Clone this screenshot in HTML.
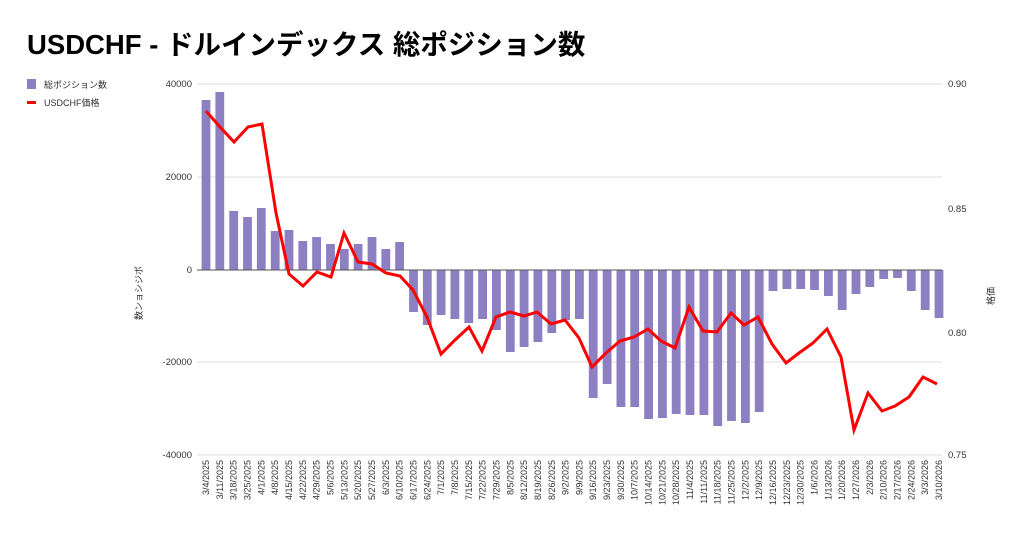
<!DOCTYPE html>
<html><head><meta charset="utf-8"><style>
body{margin:0;background:#fff;}
svg{display:block;font-family:"Liberation Sans","Noto Sans CJK JP",sans-serif;}
</style></head><body>
<svg width="1024" height="539" viewBox="0 0 1024 539" xmlns="http://www.w3.org/2000/svg">
<rect width="1024" height="539" fill="#fff"/>
<text x="27" y="54" font-size="27.5" font-weight="bold" fill="#000">USDCHF - ドルインデックス 総ポジション数</text>
<rect x="27" y="79" width="9" height="10" fill="#8c7fc2"/>
<text x="44" y="88" font-size="9" fill="#333">総ポジション数</text>
<rect x="27" y="101" width="9" height="3" fill="#f00"/>
<text x="44" y="106" font-size="9" fill="#333">USDCHF価格</text>
<g stroke="#ddd" stroke-width="1">
<line x1="197" y1="84" x2="942" y2="84"/>
<line x1="197" y1="177" x2="942" y2="177"/>
<line x1="197" y1="362" x2="942" y2="362"/>
<line x1="197" y1="455" x2="942" y2="455"/>
</g>
<g font-size="9.5" fill="#333" text-anchor="end">
<text x="192" y="87">40000</text><text x="192" y="180">20000</text><text x="192" y="273">0</text>
<text x="192" y="365">-20000</text><text x="192" y="458">-40000</text>
</g>
<g font-size="9.5" fill="#333">
<text x="948" y="87">0.90</text><text x="948" y="212">0.85</text><text x="948" y="336">0.80</text><text x="948" y="458">0.75</text>
</g>
<text transform="translate(142,320) rotate(-90)" font-size="9" fill="#333">数ンョシジポ</text>
<text transform="translate(994,305) rotate(-90)" font-size="9" fill="#333">格価</text>
<g id="bars" fill="#8c7fc2"></g>
<line x1="197" y1="270" x2="942" y2="270" stroke="#555" stroke-width="1"/>
<polyline fill="none" stroke="#f00" stroke-width="3" stroke-linejoin="miter" points="206,111 220,127 234,142 248,127 262,124 276,213 289,274 303,286 317,272 331,277 344,233 358,262 372,264 386,273 400,276 413,290 427,317 441,354 455,340 469,327 482,351 496,317 510,312 524,316 537,312 551,324 565,320 579,338 592,367 606,353 620,341 634,337 648,329 661,341 675,348 689,307 703,331 717,332 731,313 744,325 758,317 772,344 786,363 799,353 813,343 827,329 841,357 854,430 868,393 882,411 895,406 909,397 923,377 937,384"/>
<g id="xl" font-size="9" fill="#333" text-anchor="end"></g>
</svg>
<script>
var v=[100,92,211,217,208,231,230,241,237,244,249,244,237,249,242,312,325,315,319,323,319,330,352,347,342,333,320,319,398,384,407,407,419,418,414,415,415,426,421,423,412,291,289,289,290,296,310,294,287,279,278,291,310,318];
var b=document.getElementById('bars'),xl=document.getElementById('xl'),ns='http://www.w3.org/2000/svg';
var d=new Date(2025,2,4);
for(var i=0;i<54;i++){var x=206+i*13.83,y=v[i];var r=document.createElementNS(ns,'rect');
r.setAttribute('x',(x-4.4).toFixed(1));r.setAttribute('width','8.8');
r.setAttribute('y',Math.min(y,270));r.setAttribute('height',Math.abs(y-270));b.appendChild(r);
var t=document.createElementNS(ns,'text');t.setAttribute('transform','translate('+(x+3).toFixed(1)+',460) rotate(-90)');
t.textContent=(d.getMonth()+1)+'/'+d.getDate()+'/'+d.getFullYear();xl.appendChild(t);d.setDate(d.getDate()+7);}
</script>
</body></html>
